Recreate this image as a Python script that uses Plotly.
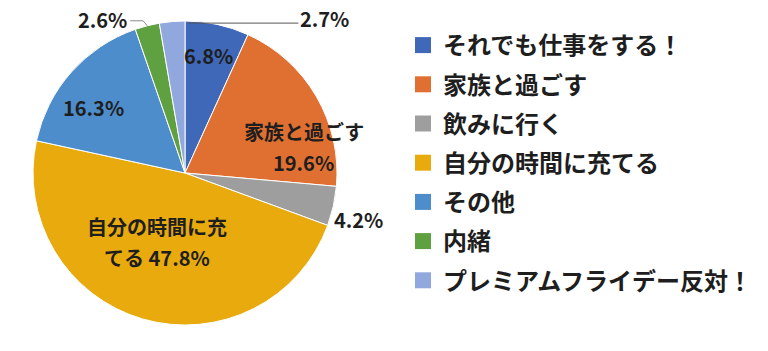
import math
import plotly.graph_objects as go

labels = ["それでも仕事をする！", "家族と過ごす", "飲みに行く", "自分の時間に充てる",
          "その他", "内緒", "プレミアムフライデー反対！"]
values = [6.8, 19.6, 4.2, 47.8, 16.3, 2.6, 2.7]
colors = ["#3F68B8", "#E07032", "#9E9E9E", "#E8AA0C", "#4E8DCB", "#5FA040", "#90A8DE"]
# data-label text lines per slice (the value is appended to the last line)
label_lines = [[""], ["家族と過ごす", ""], [""], ["自分の時間に充", "てる "], [""], [""], [""]]

W, H = 768, 351
CX, CY, R = 185, 173, 152
FONT = "Noto Sans CJK JP"
TXT = "#1E1E1E"
FS = 20
# label placement style: (angle offset from slice middle in degrees, radius fraction)
label_place = [(-1, 0.79), (18, 0.80), (2.3, 1.18), (5.7, 0.49), (-6, 0.74), None, None]

def px(x):
    return x / W

def py(y):
    return 1 - y / H

fig = go.Figure()
fig.add_trace(go.Pie(
    labels=labels, values=values, sort=False, direction="clockwise", rotation=0,
    marker=dict(colors=colors, line=dict(color="white", width=1)),
    textinfo="none",
    domain=dict(x=[px(CX - R), px(CX + R)], y=[py(CY + R), py(CY - R)]),
    showlegend=False, hoverinfo="label+percent",
))

# legend via marker-only traces so entries can be spaced like the original
for lab, col in zip(labels, colors):
    fig.add_trace(go.Scatter(x=[None], y=[None], mode="markers", name=lab,
                             legendgroup=lab,
                             marker=dict(symbol="square", size=16, color=col)))

total = sum(values)
cum = 0
mids = []
for v in values:
    mids.append((cum + v / 2) / total * 2 * math.pi)
    cum += v

def on_circle(theta, f):
    return CX + R * f * math.sin(theta), CY - R * f * math.cos(theta)

annotations = []
shapes = []
afont = dict(family=FONT, size=FS, color=TXT, weight="bold")
LINE_GAP = 31

for i, place in enumerate(label_place):
    if place is None:
        continue
    off, f = place
    x, y = on_circle(mids[i] + math.radians(off), f)
    lines = list(label_lines[i])
    lines[-1] = lines[-1] + f"{values[i]}%"
    n = len(lines)
    for k, t in enumerate(lines):
        yy = y + (k - (n - 1) / 2) * LINE_GAP
        annotations.append(dict(x=px(x), y=py(yy), xref="paper", yref="paper",
                                showarrow=False, text=t, font=afont,
                                xanchor="center", yanchor="middle"))

# 内緒 2.6% with leader line
x0, y0 = on_circle(mids[5], 1.0)
shapes.append(dict(type="path", xref="paper", yref="paper",
                   path=f"M{px(x0)},{py(y0)} L{px(x0-4)},{py(y0-5)} L{px(x0-17)},{py(y0-5)}",
                   line=dict(color="#8C8C8C", width=1)))
annotations.append(dict(x=px(x0 - 18), y=py(y0 - 6), xref="paper", yref="paper", showarrow=False,
                        text=f"{values[5]}%", font=afont, xanchor="right", yanchor="middle"))

# プレミアムフライデー反対！ 2.7% with leader line
x0, y0 = on_circle(mids[6] + 0.12, 1.0)
shapes.append(dict(type="line", xref="paper", yref="paper",
                   x0=px(x0 - 2), y0=py(y0 + 2), x1=px(x0 + 108), y1=py(y0 + 2),
                   line=dict(color="#555555", width=1)))
annotations.append(dict(x=px(x0 + 108), y=py(y0 - 3), xref="paper", yref="paper", showarrow=False,
                        text=f"{values[6]}%", font=afont, xanchor="left", yanchor="middle"))

fig.update_layout(
    width=W, height=H, margin=dict(l=0, r=0, t=0, b=0),
    paper_bgcolor="white", plot_bgcolor="white",
    xaxis=dict(visible=False), yaxis=dict(visible=False),
    legend=dict(x=px(403), y=py(23), xanchor="left", yanchor="top",
                traceorder="grouped", tracegroupgap=5,
                font=dict(family=FONT, size=24, color=TXT, weight="bold"),
                bgcolor="rgba(0,0,0,0)"),
    annotations=annotations, shapes=shapes,
)

fig.write_html("out.html")
